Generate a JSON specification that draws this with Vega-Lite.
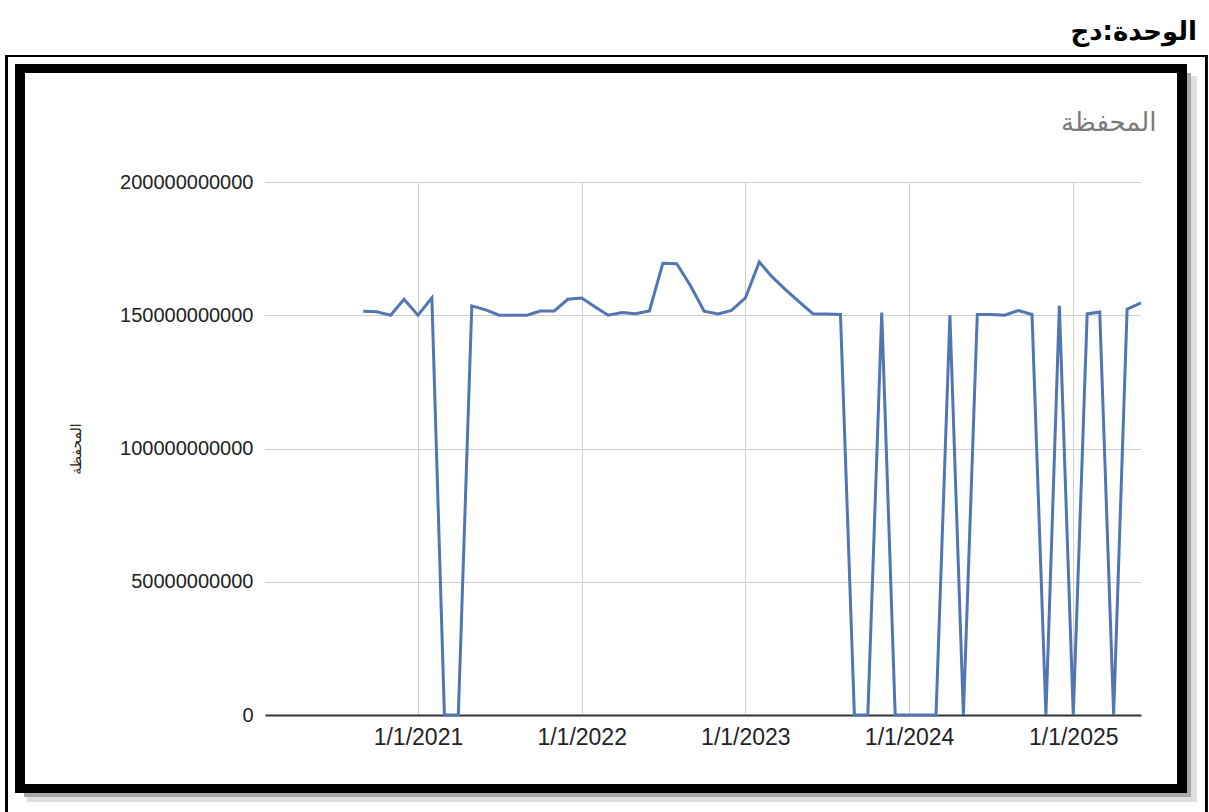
{
  "$schema": "https://vega.github.io/schema/vega-lite/v6.json",
  "width": 876,
  "height": 533,
  "autosize": {"type": "none"},
  "padding": {"left": 265, "top": 182, "right": 68, "bottom": 97},
  "background": "white",
  "title": {
    "text": "الوحدة:دج",
    "anchor": "end",
    "frame": "group",
    "font": "DejaVu Sans",
    "fontSize": 26,
    "fontWeight": "bold",
    "color": "#000000",
    "dx": 56,
    "offset": 10
  },
  "config": {
    "view": {"stroke": null},
    "axis": {"gridColor": "#cfcfcf", "gridWidth": 1}
  },
  "datasets": {
    "portfolio": [
      {"date": "2020-09-01", "value": 151500000000},
      {"date": "2020-10-01", "value": 151300000000},
      {"date": "2020-11-01", "value": 150000000000},
      {"date": "2020-12-01", "value": 156000000000},
      {"date": "2021-01-01", "value": 150000000000},
      {"date": "2021-02-01", "value": 156500000000},
      {"date": "2021-03-01", "value": 0},
      {"date": "2021-04-01", "value": 0},
      {"date": "2021-05-01", "value": 153500000000},
      {"date": "2021-06-01", "value": 152000000000},
      {"date": "2021-07-01", "value": 150000000000},
      {"date": "2021-08-01", "value": 150000000000},
      {"date": "2021-09-01", "value": 150000000000},
      {"date": "2021-10-01", "value": 151600000000},
      {"date": "2021-11-01", "value": 151600000000},
      {"date": "2021-12-01", "value": 156000000000},
      {"date": "2022-01-01", "value": 156500000000},
      {"date": "2022-02-01", "value": 153000000000},
      {"date": "2022-03-01", "value": 150000000000},
      {"date": "2022-04-01", "value": 151000000000},
      {"date": "2022-05-01", "value": 150600000000},
      {"date": "2022-06-01", "value": 151600000000},
      {"date": "2022-07-01", "value": 169500000000},
      {"date": "2022-08-01", "value": 169300000000},
      {"date": "2022-09-01", "value": 161000000000},
      {"date": "2022-10-01", "value": 151500000000},
      {"date": "2022-11-01", "value": 150500000000},
      {"date": "2022-12-01", "value": 151800000000},
      {"date": "2023-01-01", "value": 156500000000},
      {"date": "2023-02-01", "value": 170000000000},
      {"date": "2023-03-01", "value": 164500000000},
      {"date": "2023-04-01", "value": 159500000000},
      {"date": "2023-05-01", "value": 155000000000},
      {"date": "2023-06-01", "value": 150500000000},
      {"date": "2023-07-01", "value": 150500000000},
      {"date": "2023-08-01", "value": 150300000000},
      {"date": "2023-09-01", "value": 0},
      {"date": "2023-10-01", "value": 0},
      {"date": "2023-11-01", "value": 151000000000},
      {"date": "2023-12-01", "value": 0},
      {"date": "2024-01-01", "value": 0},
      {"date": "2024-02-01", "value": 0},
      {"date": "2024-03-01", "value": 0},
      {"date": "2024-04-01", "value": 150000000000},
      {"date": "2024-05-01", "value": 0},
      {"date": "2024-06-01", "value": 150300000000},
      {"date": "2024-07-01", "value": 150300000000},
      {"date": "2024-08-01", "value": 150000000000},
      {"date": "2024-09-01", "value": 151800000000},
      {"date": "2024-10-01", "value": 150300000000},
      {"date": "2024-11-01", "value": 0},
      {"date": "2024-12-01", "value": 153500000000},
      {"date": "2025-01-01", "value": 0},
      {"date": "2025-02-01", "value": 150500000000},
      {"date": "2025-03-01", "value": 151200000000},
      {"date": "2025-04-01", "value": 0},
      {"date": "2025-05-01", "value": 152300000000},
      {"date": "2025-06-01", "value": 154600000000}
    ]
  },
  "data": {"name": "portfolio"},
  "layer": [
    {
      "mark": {"type": "rect", "fill": "transparent", "stroke": "#000000", "strokeWidth": 2, "clip": false},
      "encoding": {
        "x": {"datum": {"year": 2018, "month": 6, "date": 28, "utc": true}, "type": "temporal", "axis": null},
        "x2": {"datum": {"year": 2025, "month": 10, "date": 24, "utc": true}},
        "y": {"datum": 247280000000, "type": "quantitative", "axis": null},
        "y2": {"datum": -45000000000}
      }
    },
    {
      "mark": {"type": "rect", "fill": "#dedede", "clip": false},
      "encoding": {
        "x": {"datum": {"year": 2025, "month": 9, "date": 20, "utc": true}, "type": "temporal", "axis": null},
        "x2": {"datum": {"year": 2025, "month": 10, "date": 2, "utc": true}},
        "y": {"datum": 239770000000, "type": "quantitative", "axis": null},
        "y2": {"datum": -32650000000}
      }
    },
    {
      "mark": {"type": "rect", "fill": "#dedede", "clip": false},
      "encoding": {
        "x": {"datum": {"year": 2018, "month": 8, "date": 14, "utc": true}, "type": "temporal", "axis": null},
        "x2": {"datum": {"year": 2025, "month": 10, "date": 2, "utc": true}},
        "y": {"datum": -30770000000, "type": "quantitative", "axis": null},
        "y2": {"datum": -32650000000}
      }
    },
    {
      "mark": {"type": "rect", "fill": "#a8a8a8", "clip": false},
      "encoding": {
        "x": {"datum": {"year": 2025, "month": 9, "date": 11, "utc": true}, "type": "temporal", "axis": null},
        "x2": {"datum": {"year": 2025, "month": 9, "date": 20, "utc": true}},
        "y": {"datum": 240900000000, "type": "quantitative", "axis": null},
        "y2": {"datum": -30770000000}
      }
    },
    {
      "mark": {"type": "rect", "fill": "#a8a8a8", "clip": false},
      "encoding": {
        "x": {"datum": {"year": 2018, "month": 8, "date": 7, "utc": true}, "type": "temporal", "axis": null},
        "x2": {"datum": {"year": 2025, "month": 9, "date": 20, "utc": true}},
        "y": {"datum": -29270000000, "type": "quantitative", "axis": null},
        "y2": {"datum": -30770000000}
      }
    },
    {
      "mark": {"type": "rect", "fill": "transparent", "stroke": "#000000", "strokeWidth": 9, "clip": false},
      "encoding": {
        "x": {
          "datum": {"year": 2018, "month": 7, "date": 28, "utc": true},
          "type": "temporal",
          "axis": {
            "orient": "top",
            "labels": false,
            "ticks": false,
            "domain": false,
            "grid": false,
            "title": "المحفظة",
            "titleFont": "DejaVu Sans",
            "titleFontSize": 26,
            "titleFontWeight": "normal",
            "titleColor": "#7a7a7a",
            "titleX": 891,
            "titleY": -60,
            "titleAlign": "right",
            "titleBaseline": "middle",
            "titleAnchor": null
          }
        },
        "x2": {"datum": {"year": 2025, "month": 9, "date": 1, "utc": true}},
        "y": {"datum": 242590000000, "type": "quantitative", "axis": null},
        "y2": {"datum": -27580000000}
      }
    },
    {
      "mark": {"type": "line", "color": "#5276b3", "strokeWidth": 3, "clip": false},
      "encoding": {
        "x": {
          "field": "date",
          "type": "temporal",
          "scale": {
            "type": "utc",
            "domain": [
              {"year": 2020, "month": 1, "date": 26, "utc": true},
              {"year": 2025, "month": 6, "date": 1, "utc": true}
            ],
            "nice": false
          },
          "axis": {
            "orient": "bottom",
            "title": null,
            "values": [
              {"year": 2021, "month": 1, "date": 1, "utc": true},
              {"year": 2022, "month": 1, "date": 1, "utc": true},
              {"year": 2023, "month": 1, "date": 1, "utc": true},
              {"year": 2024, "month": 1, "date": 1, "utc": true},
              {"year": 2025, "month": 1, "date": 1, "utc": true}
            ],
            "format": "%-m/%-d/%Y",
            "labelFont": "Liberation Sans",
            "labelFontSize": 23,
            "labelColor": "#222222",
            "labelPadding": 11,
            "labelFlush": false,
            "labelOverlap": false,
            "ticks": false,
            "domain": true,
            "domainColor": "#333333",
            "domainWidth": 2,
            "grid": true
          }
        },
        "y": {
          "field": "value",
          "type": "quantitative",
          "scale": {"domain": [0, 200000000000], "nice": false, "zero": true},
          "axis": {
            "orient": "left",
            "values": [0, 50000000000, 100000000000, 150000000000, 200000000000],
            "format": "d",
            "labelFont": "Liberation Sans",
            "labelFontSize": 20,
            "labelColor": "#222222",
            "labelPadding": 12,
            "ticks": false,
            "domain": false,
            "grid": true,
            "title": "المحفظة",
            "titleFont": "DejaVu Sans",
            "titleFontSize": 14,
            "titleFontWeight": "normal",
            "titleColor": "#222222",
            "titlePadding": 36
          }
        }
      }
    }
  ],
  "resolve": {"axis": {"x": "independent", "y": "independent"}}
}
